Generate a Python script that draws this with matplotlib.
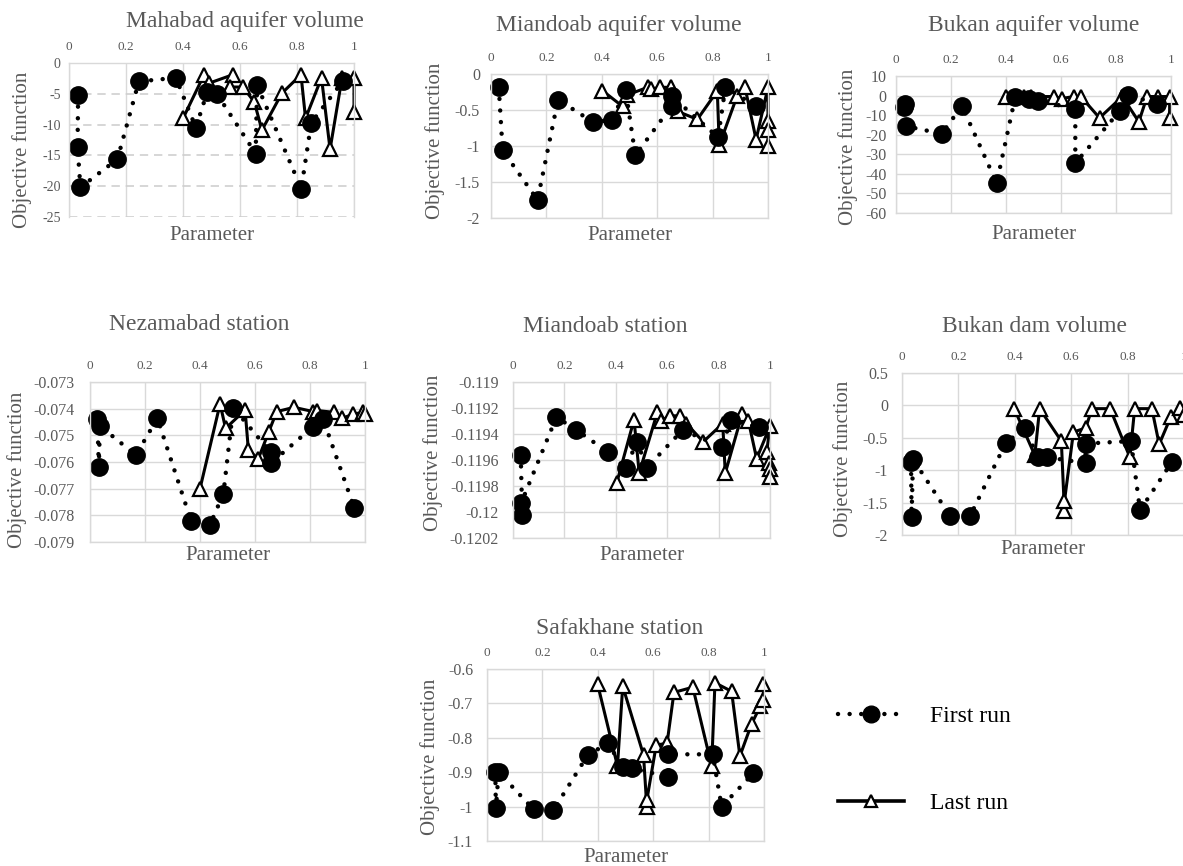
import matplotlib
matplotlib.use("Agg")
import matplotlib.pyplot as plt
from matplotlib.lines import Line2D

plt.rcParams['font.family'] = ['Liberation Serif', 'DejaVu Serif']

W, H = 1183, 866
GRAY = '#595959'
GRID = '#d9d9d9'

x_ticks = [0, 0.2, 0.4, 0.6, 0.8, 1]

# Mahabad aquifer volume
mahabad_first_x = [0.032, 0.030, 0.040, 0.17, 0.245, 0.375, 0.445, 0.485, 0.52, 0.655, 0.66, 0.815, 0.85, 0.96]
mahabad_first_y = [-5.2, -13.6, -20.2, -15.6, -3.0, -2.4, -10.5, -4.7, -5.1, -14.7, -3.6, -20.4, -9.7, -3.0]
mahabad_last_x = [0.40, 0.474, 0.49, 0.575, 0.565, 0.61, 0.65, 0.677, 0.747, 0.814, 0.83, 0.886, 0.916, 0.958, 1.0, 1.0]
mahabad_last_y = [-9.0, -1.9, -3.3, -1.9, -3.9, -3.9, -6.3, -10.9, -4.9, -1.9, -9.0, -2.4, -14.0, -2.4, -2.4, -8.0]

# Miandoab aquifer volume
miandoab_aq_first_x = [0.028, 0.042, 0.168, 0.242, 0.367, 0.437, 0.486, 0.521, 0.653, 0.653, 0.82, 0.846, 0.958]
miandoab_aq_first_y = [-0.185, -1.06, -1.75, -0.356, -0.665, -0.64, -0.22, -1.13, -0.44, -0.31, -0.88, -0.185, -0.45]
miandoab_aq_last_x = [0.402, 0.475, 0.492, 0.566, 0.578, 0.611, 0.65, 0.674, 0.745, 0.817, 0.824, 0.888, 0.917, 0.957, 1.0, 1.0, 1.0, 1.0]
miandoab_aq_last_y = [-0.23, -0.45, -0.29, -0.185, -0.21, -0.185, -0.185, -0.52, -0.63, -0.235, -0.99, -0.31, -0.185, -0.91, -0.185, -0.65, -0.78, -1.0]

# Bukan aquifer volume
bukan_aq_first_x = [0.029, 0.033, 0.035, 0.166, 0.24, 0.366, 0.434, 0.485, 0.515, 0.652, 0.652, 0.813, 0.843, 0.949]
bukan_aq_first_y = [-6.0, -4.5, -15.6, -19.5, -5.3, -44.7, -0.5, -1.5, -2.6, -6.7, -34.5, -8.0, 0.5, -4.3]
bukan_aq_last_x = [0.40, 0.465, 0.49, 0.573, 0.604, 0.646, 0.672, 0.74, 0.823, 0.883, 0.913, 0.954, 0.995, 0.995]
bukan_aq_last_y = [-0.5, -0.5, -0.5, -0.5, -1.5, -0.5, -0.5, -11.4, -0.5, -13.4, -0.5, -0.5, -0.5, -11.7]

# Nezamabad station
nezamabad_first_x = [0.027, 0.032, 0.036, 0.167, 0.245, 0.368, 0.436, 0.485, 0.521, 0.657, 0.657, 0.812, 0.848, 0.961]
nezamabad_first_y = [-0.0744, -0.07618, -0.07465, -0.07574, -0.07436, -0.07822, -0.07836, -0.07719, -0.07396,
                     -0.07564, -0.07605, -0.07467, -0.0744, -0.07773]
nezamabad_last_x = [0.40, 0.473, 0.493, 0.564, 0.576, 0.612, 0.65, 0.679, 0.742, 0.812, 0.827, 0.888, 0.918, 0.958, 0.994, 1.0]
nezamabad_last_y = [-0.077, -0.07382, -0.07474, -0.07405, -0.07556, -0.07588, -0.07487, -0.07411, -0.07395,
                    -0.07411, -0.07407, -0.07414, -0.07436, -0.0742, -0.07414, -0.0742]

# Miandoab station
miandoab_st_first_x = [0.030, 0.036, 0.032, 0.169, 0.247, 0.37, 0.438, 0.483, 0.52, 0.66, 0.814, 0.847, 0.958]
miandoab_st_first_y = [-0.11956, -0.12002, -0.11993, -0.11927, -0.11937, -0.11954, -0.11966, -0.11946, -0.11966,
                       -0.11937, -0.1195, -0.11929, -0.11935]
miandoab_st_last_x = [0.403, 0.471, 0.491, 0.562, 0.574, 0.61, 0.649, 0.675, 0.74, 0.816, 0.826, 0.891, 0.916, 0.948,
                      1.0, 0.987, 0.995, 1.0, 1.0]
miandoab_st_last_y = [-0.11978, -0.11929, -0.1197, -0.11923, -0.1193, -0.11926, -0.11926, -0.11932, -0.11946,
                      -0.11932, -0.1197, -0.11925, -0.1193, -0.11959, -0.11934, -0.11954, -0.11962, -0.11967, -0.11973]

# Bukan dam volume
bukan_dam_first_x = [0.032, 0.034, 0.039, 0.171, 0.241, 0.368, 0.435, 0.482, 0.514, 0.651, 0.651, 0.812, 0.844, 0.956]
bukan_dam_first_y = [-0.88, -1.72, -0.83, -1.71, -1.71, -0.58, -0.35, -0.80, -0.80, -0.89, -0.59, -0.55, -1.62, -0.88]
bukan_dam_last_x = [0.398, 0.471, 0.488, 0.565, 0.576, 0.576, 0.608, 0.651, 0.674, 0.738, 0.808, 0.825, 0.886, 0.912,
                    0.953, 0.985, 1.0]
bukan_dam_last_y = [-0.05, -0.77, -0.05, -0.55, -1.63, -1.48, -0.41, -0.35, -0.05, -0.05, -0.80, -0.05, -0.05, -0.60,
                    -0.18, -0.04, -0.15]

# Safakhane station
safakhane_first_x = [0.03, 0.032, 0.042, 0.168, 0.24, 0.363, 0.436, 0.49, 0.523, 0.655, 0.655, 0.815, 0.847, 0.962]
safakhane_first_y = [-0.898, -1.005, -0.9, -1.008, -1.01, -0.851, -0.816, -0.885, -0.889, -0.913, -0.848, -0.848,
                     -1.0, -0.903]
safakhane_last_x = [0.399, 0.471, 0.49, 0.565, 0.577, 0.577, 0.611, 0.65, 0.675, 0.743, 0.811, 0.823, 0.883, 0.913,
                    0.955, 0.986, 0.998, 0.998]
safakhane_last_y = [-0.643, -0.882, -0.65, -0.85, -1.002, -0.981, -0.821, -0.816, -0.668, -0.653, -0.882, -0.64,
                    -0.665, -0.853, -0.76, -0.709, -0.691, -0.645]

fig = plt.figure(figsize=(W / 100, H / 100), dpi=100)

DOTS = (0, (0.01, 2.6))


def fmt(v):
    v = round(v, 6)
    if v == 0:
        return '0'
    return '%g' % v


def panel(box, title, title_xy, ylab_xy, xlab_y, fx, fy, lx, ly, yticks, ypad, ysize, dashed=False):
    x0, y0, x1, y1 = box
    ax = fig.add_axes([x0 / W, 1 - y1 / H, (x1 - x0) / W, (y1 - y0) / H])
    ax.set_xlim(0, 1)
    ax.set_ylim(yticks[0], yticks[-1])
    ax.set_xticks(x_ticks)
    ax.set_xticklabels([fmt(t) for t in x_ticks])
    ax.set_yticks(yticks)
    ax.set_yticklabels([fmt(t) for t in yticks])
    ax.xaxis.tick_top()
    ax.tick_params(axis='x', length=0, pad=7, labelsize=9.5, labelcolor=GRAY)
    ax.tick_params(axis='y', length=0, pad=ypad, labelsize=ysize, labelcolor=GRAY)
    ax.grid(True, axis='x', color=GRID, lw=1.0)
    if dashed:
        ax.grid(True, axis='y', color='#cfcfcf', lw=1.2, linestyle=(0, (5, 3.5)))
        ax.spines['bottom'].set_visible(False)
    else:
        ax.grid(True, axis='y', color=GRID, lw=1.0)
    for s in ax.spines.values():
        s.set_color(GRID)
        s.set_linewidth(1.0)
    ax.set_axisbelow(True)

    ax.plot(lx, ly, color='black', lw=2.2, marker='^', markersize=10,
            markerfacecolor='white', markeredgecolor='black', markeredgewidth=1.6, clip_on=False)
    ax.plot(fx, fy, color='black', lw=3.2, linestyle=DOTS, dash_capstyle='round',
            marker='o', markersize=12.5, markerfacecolor='black', markeredgecolor='black', clip_on=False)

    fig.text(title_xy[0] / W, 1 - title_xy[1] / H, title, ha='center', va='center', fontsize=17, color=GRAY)
    ax.set_ylabel('Objective function', fontsize=15, color=GRAY)
    ax.yaxis.set_label_coords(ylab_xy[0] / W, 1 - ylab_xy[1] / H, transform=fig.transFigure)
    ax.yaxis.label.set_va('center')
    ax.set_xlabel('Parameter', fontsize=15, color=GRAY)
    ax.xaxis.set_label_position('bottom')
    ax.xaxis.set_label_coords((x0 + x1) / 2 / W, 1 - xlab_y / H, transform=fig.transFigure)
    ax.xaxis.label.set_va('center')
    return ax


panel((69, 63, 354, 217), 'Mahabad aquifer volume', (245, 22), (22, 150), 236,
      mahabad_first_x, mahabad_first_y, mahabad_last_x, mahabad_last_y,
      [-25, -20, -15, -10, -5, 0], 6, 10, dashed=True)

panel((491, 74, 768, 218), 'Miandoab aquifer volume', (619, 25), (435, 141), 236,
      miandoab_aq_first_x, miandoab_aq_first_y, miandoab_aq_last_x, miandoab_aq_last_y,
      [-2, -1.5, -1, -0.5, 0], 8, 11.5)

panel((896, 76, 1171, 213), 'Bukan aquifer volume', (1034, 25), (848, 147), 234,
      bukan_aq_first_x, bukan_aq_first_y, bukan_aq_last_x, bukan_aq_last_y,
      [-60, -50, -40, -30, -20, -10, 0, 10], 7, 11.5)

panel((90, 382, 365, 542), 'Nezamabad station', (199, 325), (17, 470), 556,
      nezamabad_first_x, nezamabad_first_y, nezamabad_last_x, nezamabad_last_y,
      [-0.079, -0.078, -0.077, -0.076, -0.075, -0.074, -0.073], 11, 11.5)

panel((513, 382, 770, 538), 'Miandoab station', (605, 327), (433, 453), 555,
      miandoab_st_first_x, miandoab_st_first_y, miandoab_st_last_x, miandoab_st_last_y,
      [-0.1202, -0.12, -0.1198, -0.1196, -0.1194, -0.1192, -0.119], 10, 11.5)

panel((902, 373, 1184, 535), 'Bukan dam volume', (1035, 327), (843, 459), 550,
      bukan_dam_first_x, bukan_dam_first_y, bukan_dam_last_x, bukan_dam_last_y,
      [-2, -1.5, -1, -0.5, 0, 0.5], 10, 11.5)

panel((487, 669, 764, 841), 'Safakhane station', (620, 629), (430, 757), 858,
      safakhane_first_x, safakhane_first_y, safakhane_last_x, safakhane_last_y,
      [-1.1, -1, -0.9, -0.8, -0.7, -0.6], 10, 11.5)

handles = [
    Line2D([], [], color='black', lw=3.2, linestyle=DOTS, dash_capstyle='round',
           marker='o', markersize=12, markerfacecolor='black'),
    Line2D([], [], color='black', lw=2.6, marker='^', markersize=9,
           markerfacecolor='white', markeredgecolor='black', markeredgewidth=1.6),
]
fig.legend(handles, ['First run', 'Last run'], loc='upper left',
           bbox_to_anchor=(826 / W, 1 - 694 / H), frameon=False, fontsize=17,
           handlelength=2.8, handletextpad=1.1, labelspacing=2.75, borderpad=0)

fig.savefig('out.png', dpi=100)
